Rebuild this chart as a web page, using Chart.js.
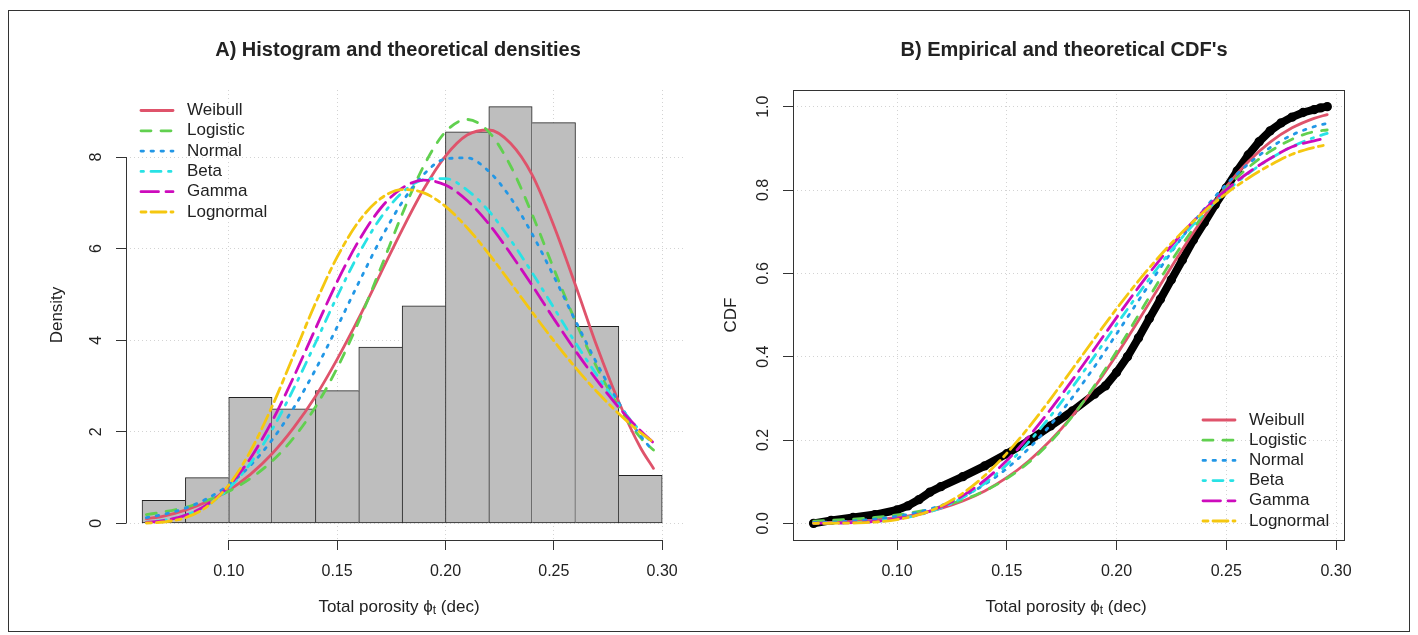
<!DOCTYPE html>
<html>
<head>
<meta charset="utf-8">
<script src="https://cdn.jsdelivr.net/npm/chart.js@4.4.1/dist/chart.umd.min.js"></script>
<style>
  html, body { margin: 0; padding: 0; background: #fff; }
  #page { position: relative; width: 1418px; height: 635px; overflow: hidden; background: #fff; }
  #frame { position: absolute; left: 8px; top: 10px; width: 1402px; height: 622px; box-sizing: border-box; border: 1.5px solid #333; }
  canvas { position: absolute; top: 0; }
  #hist-canvas { left: 0; }
  #cdf-canvas { left: 709px; }
</style>
</head>
<body>
<div id="page">
  <div id="frame"></div>
  <canvas id="hist-canvas" width="709" height="635"></canvas>
  <canvas id="cdf-canvas" width="709" height="635"></canvas>
</div>
<script>
// --- Data ---
const binCenters = [0.07, 0.09, 0.11, 0.13, 0.15, 0.17, 0.19, 0.21, 0.23, 0.25, 0.27, 0.29];
const binDensity = [0.50, 1.00, 2.75, 2.50, 2.90, 3.85, 4.75, 8.55, 9.10, 8.75, 4.30, 1.05];

const curveX = [0.062, 0.07, 0.08, 0.09, 0.10, 0.11, 0.12, 0.13, 0.14, 0.15, 0.16, 0.17, 0.18,
                0.19, 0.20, 0.21, 0.22, 0.23, 0.24, 0.25, 0.26, 0.27, 0.28, 0.29, 0.296];

const weibullPdf   = [0.10, 0.16, 0.29, 0.47, 0.72, 1.07, 1.52, 2.09, 2.77, 3.58, 4.48, 5.45, 6.41,
                      7.30, 8.02, 8.48, 8.59, 8.30, 7.61, 6.50, 5.20, 3.85, 2.65, 1.65, 1.20];
const logisticPdf  = [0.19, 0.25, 0.35, 0.50, 0.70, 0.98, 1.36, 1.87, 2.54, 3.39, 4.41, 5.56, 6.75,
                      7.81, 8.55, 8.82, 8.55, 7.81, 6.75, 5.56, 4.41, 3.39, 2.54, 1.87, 1.60];
const normalPdf    = [0.125, 0.196, 0.331, 0.539, 0.842, 1.264, 1.822, 2.523, 3.355, 4.286, 5.258, 6.196, 7.012,
                      7.623, 7.959, 7.981, 7.688, 7.112, 6.319, 5.393, 4.421, 3.481, 2.632, 1.912, 1.570];
const betaPdf      = [0.026, 0.067, 0.177, 0.395, 0.763, 1.311, 2.046, 2.945, 3.939, 4.953, 5.888, 6.666, 7.221,
                      7.508, 7.530, 7.279, 6.821, 6.191, 5.474, 4.707, 3.943, 3.228, 2.575, 2.010, 1.730];
const gammaPdf     = [0.022, 0.061, 0.175, 0.409, 0.814, 1.422, 2.232, 3.200, 4.250, 5.275, 6.172, 6.876, 7.322,
                      7.494, 7.389, 7.050, 6.540, 5.894, 5.196, 4.468, 3.766, 3.117, 2.529, 2.022, 1.760];
const lognormalPdf = [0.007, 0.029, 0.123, 0.365, 0.835, 1.575, 2.553, 3.675, 4.806, 5.813, 6.593, 7.089, 7.290,
                      7.218, 6.921, 6.457, 5.885, 5.256, 4.612, 3.986, 3.401, 2.867, 2.394, 1.981, 1.770];

const weibullCdf   = [0.0012, 0.0022, 0.0044, 0.0081, 0.0140, 0.0229, 0.0357, 0.0536, 0.0778, 0.1095, 0.1497, 0.1993, 0.2587,
                      0.3273, 0.4042, 0.4868, 0.5725, 0.6572, 0.7371, 0.8083, 0.8680, 0.9150, 0.9492, 0.9720, 0.9810];
const logisticCdf  = [0.0054, 0.0071, 0.0101, 0.0143, 0.0202, 0.0285, 0.0401, 0.0561, 0.0780, 0.1075, 0.1462, 0.1960, 0.2576,
                      0.3305, 0.4127, 0.5000, 0.5873, 0.6695, 0.7424, 0.8040, 0.8538, 0.8926, 0.9220, 0.9400, 0.9440];
const normalCdf    = [0.0020, 0.0032, 0.0058, 0.0101, 0.0169, 0.0273, 0.0426, 0.0643, 0.0935, 0.1317, 0.1794, 0.2367, 0.3029,
                      0.3763, 0.4544, 0.5344, 0.6130, 0.6872, 0.7545, 0.8132, 0.8622, 0.9017, 0.9322, 0.9520, 0.9600];
const betaCdf      = [0.0002, 0.0005, 0.0017, 0.0044, 0.0101, 0.0203, 0.0369, 0.0618, 0.0961, 0.1406, 0.1949, 0.2579, 0.3275,
                      0.4014, 0.4768, 0.5510, 0.6217, 0.6868, 0.7452, 0.7962, 0.8394, 0.8752, 0.9041, 0.9260, 0.9360];
const gammaCdf     = [0.0002, 0.0005, 0.0016, 0.0045, 0.0105, 0.0214, 0.0395, 0.0664, 0.1036, 0.1508, 0.2081, 0.2736, 0.3448,
                      0.4191, 0.4937, 0.5662, 0.6343, 0.6966, 0.7522, 0.8003, 0.8414, 0.8757, 0.9038, 0.9180, 0.9250];
const lognormalCdf = [0.0000, 0.0002, 0.0008, 0.0031, 0.0089, 0.0207, 0.0412, 0.0723, 0.1147, 0.1680, 0.2302, 0.2988, 0.3710,
                      0.4438, 0.5147, 0.5817, 0.6435, 0.6991, 0.7485, 0.7915, 0.8283, 0.8597, 0.8859, 0.9020, 0.9090];

const ecdfX = [0.062, 0.07, 0.08, 0.09, 0.10, 0.105, 0.11, 0.115, 0.12, 0.13, 0.14, 0.15, 0.16, 0.17, 0.18, 0.19,
               0.195, 0.20, 0.205, 0.21, 0.215, 0.22, 0.225, 0.23, 0.235, 0.24, 0.245, 0.25, 0.255, 0.26, 0.265,
               0.27, 0.275, 0.28, 0.285, 0.29, 0.293, 0.296];
const ecdfY = [0.000, 0.007, 0.014, 0.021, 0.032, 0.042, 0.057, 0.075, 0.088, 0.112, 0.138, 0.167, 0.198, 0.234, 0.270, 0.310,
               0.330, 0.362, 0.400, 0.445, 0.492, 0.538, 0.585, 0.632, 0.680, 0.722, 0.765, 0.805, 0.846, 0.884, 0.916,
               0.942, 0.961, 0.975, 0.986, 0.993, 0.997, 1.000];

const xTicks = [0.10, 0.15, 0.20, 0.25, 0.30];
const densityTicks = [0, 2, 4, 6, 8];
const cdfTicks = [0, 0.2, 0.4, 0.6, 0.8, 1.0];

const seriesNames = ['Weibull', 'Logistic', 'Normal', 'Beta', 'Gamma', 'Lognormal'];

// --- Styles ---
const seriesColors = ['#DF536B', '#61D04F', '#2297E6', '#28E2E5', '#CD0BBC', '#F5C710'];
const seriesDash = [[], [10, 10], [2.5, 7.5], [2.5, 7.5, 10, 7.5], [17.5, 7.5], [5, 5, 15, 5]];
const FONT = '"Liberation Sans", Arial, Helvetica, sans-serif';
const TEXT = '#222';
const AXIS = '#333';
const LINE_W = 2.8;

Chart.defaults.font.family = FONT;
Chart.defaults.font.size = 16;
Chart.defaults.color = TEXT;

// --- Helpers ---
function toPoints(xs, ys) {
    return xs.map((x, i) => ({ x: x, y: ys[i] }));
}

function curveDatasets(series) {
    return series.map((ys, i) => ({
        type: 'line',
        label: seriesNames[i],
        data: toPoints(curveX, ys),
        borderColor: seriesColors[i],
        borderWidth: LINE_W,
        borderDash: seriesDash[i],
        borderCapStyle: 'round',
        borderJoinStyle: 'round',
        pointRadius: 0,
        fill: false,
        cubicInterpolationMode: 'monotone',
        order: series.length - i // later series on top, like R
    }));
}

function xScale(min, max) {
    return {
        type: 'linear',
        min: min,
        max: max,
        offset: false,
        afterBuildTicks: s => { s.ticks = xTicks.map(v => ({ value: v })); },
        afterFit: s => { s.height = 95; },
        grid: { color: '#D3D3D3', offset: false, tickLength: 10, tickColor: AXIS, tickWidth: 1 },
        border: { display: false, dash: [1, 3] },
        ticks: { padding: 12, maxRotation: 0, autoSkip: false, callback: v => v.toFixed(2) }
    };
}

function yScale(min, max, ticks, width, pad, label, titlePad, digits) {
    return {
        type: 'linear',
        min: min,
        max: max,
        afterBuildTicks: s => { s.ticks = ticks.map(v => ({ value: v })); },
        afterFit: s => { s.width = width; },
        grid: { color: '#D3D3D3', tickLength: 10, tickColor: AXIS, tickWidth: 1 },
        border: { display: false, dash: [1, 3] },
        ticks: {
            minRotation: 90, maxRotation: 90, crossAlign: 'center', padding: pad, autoSkip: false,
            callback: v => v.toFixed(digits)
        },
        title: { display: true, text: label, padding: { top: titlePad, bottom: 0 }, font: { size: 17 } }
    };
}

function drawTitle(chart, text, cx) {
    const ctx = chart.ctx;
    ctx.save();
    ctx.font = 'bold 20px ' + FONT;
    ctx.fillStyle = TEXT;
    ctx.textAlign = 'center';
    ctx.textBaseline = 'middle';
    ctx.fillText(text, cx, 50);
    ctx.restore();
}

function drawXTitle(chart, cx) {
    const ctx = chart.ctx;
    const pieces = [
        { text: 'Total porosity ', size: 17, dy: 0 },
        { text: '\u03D5', size: 17, dy: 0 },
        { text: 't', size: 12, dy: 4 },
        { text: ' (dec)', size: 17, dy: 0 }
    ];
    ctx.save();
    let total = 0;
    pieces.forEach(p => {
        ctx.font = p.size + 'px ' + FONT;
        p.w = ctx.measureText(p.text).width;
        total += p.w;
    });
    let x = cx - total / 2;
    ctx.fillStyle = TEXT;
    ctx.textAlign = 'left';
    ctx.textBaseline = 'middle';
    pieces.forEach(p => {
        ctx.font = p.size + 'px ' + FONT;
        ctx.fillText(p.text, x, 607 + p.dy);
        x += p.w;
    });
    ctx.restore();
}

function drawLegend(chart, x0, y0, rowH) {
    const ctx = chart.ctx;
    ctx.save();
    seriesNames.forEach((name, i) => {
        const y = y0 + i * rowH;
        ctx.strokeStyle = seriesColors[i];
        ctx.lineWidth = LINE_W;
        ctx.lineCap = 'round';
        ctx.setLineDash(seriesDash[i]);
        ctx.beginPath();
        ctx.moveTo(x0, y);
        ctx.lineTo(x0 + 32, y);
        ctx.stroke();
        ctx.setLineDash([]);
        ctx.font = '17px ' + FONT;
        ctx.fillStyle = TEXT;
        ctx.textAlign = 'left';
        ctx.textBaseline = 'middle';
        ctx.fillText(name, x0 + 46, y);
    });
    ctx.restore();
}

const snap = v => Math.round(v) + 0.5;

// R style axes for the histogram panel: lines only between first and last tick
const histDecor = {
    id: 'histDecor',
    afterDraw(chart) {
        const { ctx, chartArea, scales } = chart;
        ctx.save();
        ctx.strokeStyle = AXIS;
        ctx.lineWidth = 1;
        ctx.beginPath();
        const yb = snap(chartArea.bottom);
        ctx.moveTo(scales.x.getPixelForValue(xTicks[0]), yb);
        ctx.lineTo(scales.x.getPixelForValue(xTicks[xTicks.length - 1]), yb);
        const xl = snap(chartArea.left);
        ctx.moveTo(xl, scales.y.getPixelForValue(densityTicks[0]));
        ctx.lineTo(xl, scales.y.getPixelForValue(densityTicks[densityTicks.length - 1]));
        ctx.stroke();
        ctx.restore();
        drawTitle(chart, 'A) Histogram and theoretical densities', 398);
        drawXTitle(chart, 399);
        drawLegend(chart, 141, 110.5, 20.3);
    }
};

const cdfDecor = {
    id: 'cdfDecor',
    afterDraw(chart) {
        const { ctx, chartArea } = chart;
        ctx.save();
        ctx.strokeStyle = AXIS;
        ctx.lineWidth = 1;
        const l = snap(chartArea.left), t = snap(chartArea.top);
        const r = snap(chartArea.right), b = snap(chartArea.bottom);
        ctx.strokeRect(l, t, r - l, b - t);
        ctx.restore();
        drawTitle(chart, "B) Empirical and theoretical CDF's", 355);
        drawXTitle(chart, 357);
        drawLegend(chart, 494, 420, 20.2);
    }
};

const common = {
    responsive: false,
    animation: false,
    devicePixelRatio: 1,
    events: [],
    plugins: { legend: { display: false }, tooltip: { enabled: false } }
};

// --- Panel A: histogram with fitted densities ---
new Chart(document.getElementById('hist-canvas'), {
    type: 'bar',
    data: {
        datasets: curveDatasets([weibullPdf, logisticPdf, normalPdf, betaPdf, gammaPdf, lognormalPdf]).concat([{
            type: 'bar',
            label: 'Histogram',
            data: toPoints(binCenters, binDensity),
            backgroundColor: '#BEBEBE',
            borderColor: '#222',
            borderSkipped: false,
            borderWidth: c => {
                const i = c.dataIndex;
                const h = binDensity;
                return {
                    top: 1, bottom: 1,
                    left: (i === 0 || h[i - 1] <= h[i]) ? 1 : 0,
                    right: (i === h.length - 1 || h[i + 1] < h[i]) ? 1 : 0
                };
            },
            barPercentage: 1,
            categoryPercentage: 1,
            grouped: false,
            order: 20
        }])
    },
    options: Object.assign({}, common, {
        layout: { padding: { left: 0, right: 26, top: 90, bottom: 0 } },
        scales: {
            x: xScale(0.0526, 0.3096),
            y: yScale(-0.364, 9.464, densityTicks, 126, 14.5, 'Density', 46.8, 0)
        }
    }),
    plugins: [histDecor]
});

// --- Panel B: empirical and fitted CDFs ---
new Chart(document.getElementById('cdf-canvas'), {
    type: 'line',
    data: {
        datasets: curveDatasets([weibullCdf, logisticCdf, normalCdf, betaCdf, gammaCdf, lognormalCdf]).concat([{
            type: 'line',
            label: 'Empirical',
            data: toPoints(ecdfX, ecdfY),
            borderColor: '#000',
            borderWidth: 8,
            borderJoinStyle: 'round',
            borderCapStyle: 'round',
            tension: 0,
            pointRadius: 3.8,
            pointBorderWidth: 1.8,
            pointBorderColor: '#000',
            pointBackgroundColor: 'rgba(0,0,0,0)',
            fill: false,
            order: 20
        }])
    },
    options: Object.assign({}, common, {
        layout: { padding: { left: 0, right: 74, top: 90, bottom: 0 } },
        scales: {
            x: xScale(0.05262, 0.30364),
            y: yScale(-0.04, 1.04, cdfTicks, 84, 7.9, 'CDF', 11.8, 1)
        }
    }),
    plugins: [cdfDecor]
});
</script>
</body>
</html>
